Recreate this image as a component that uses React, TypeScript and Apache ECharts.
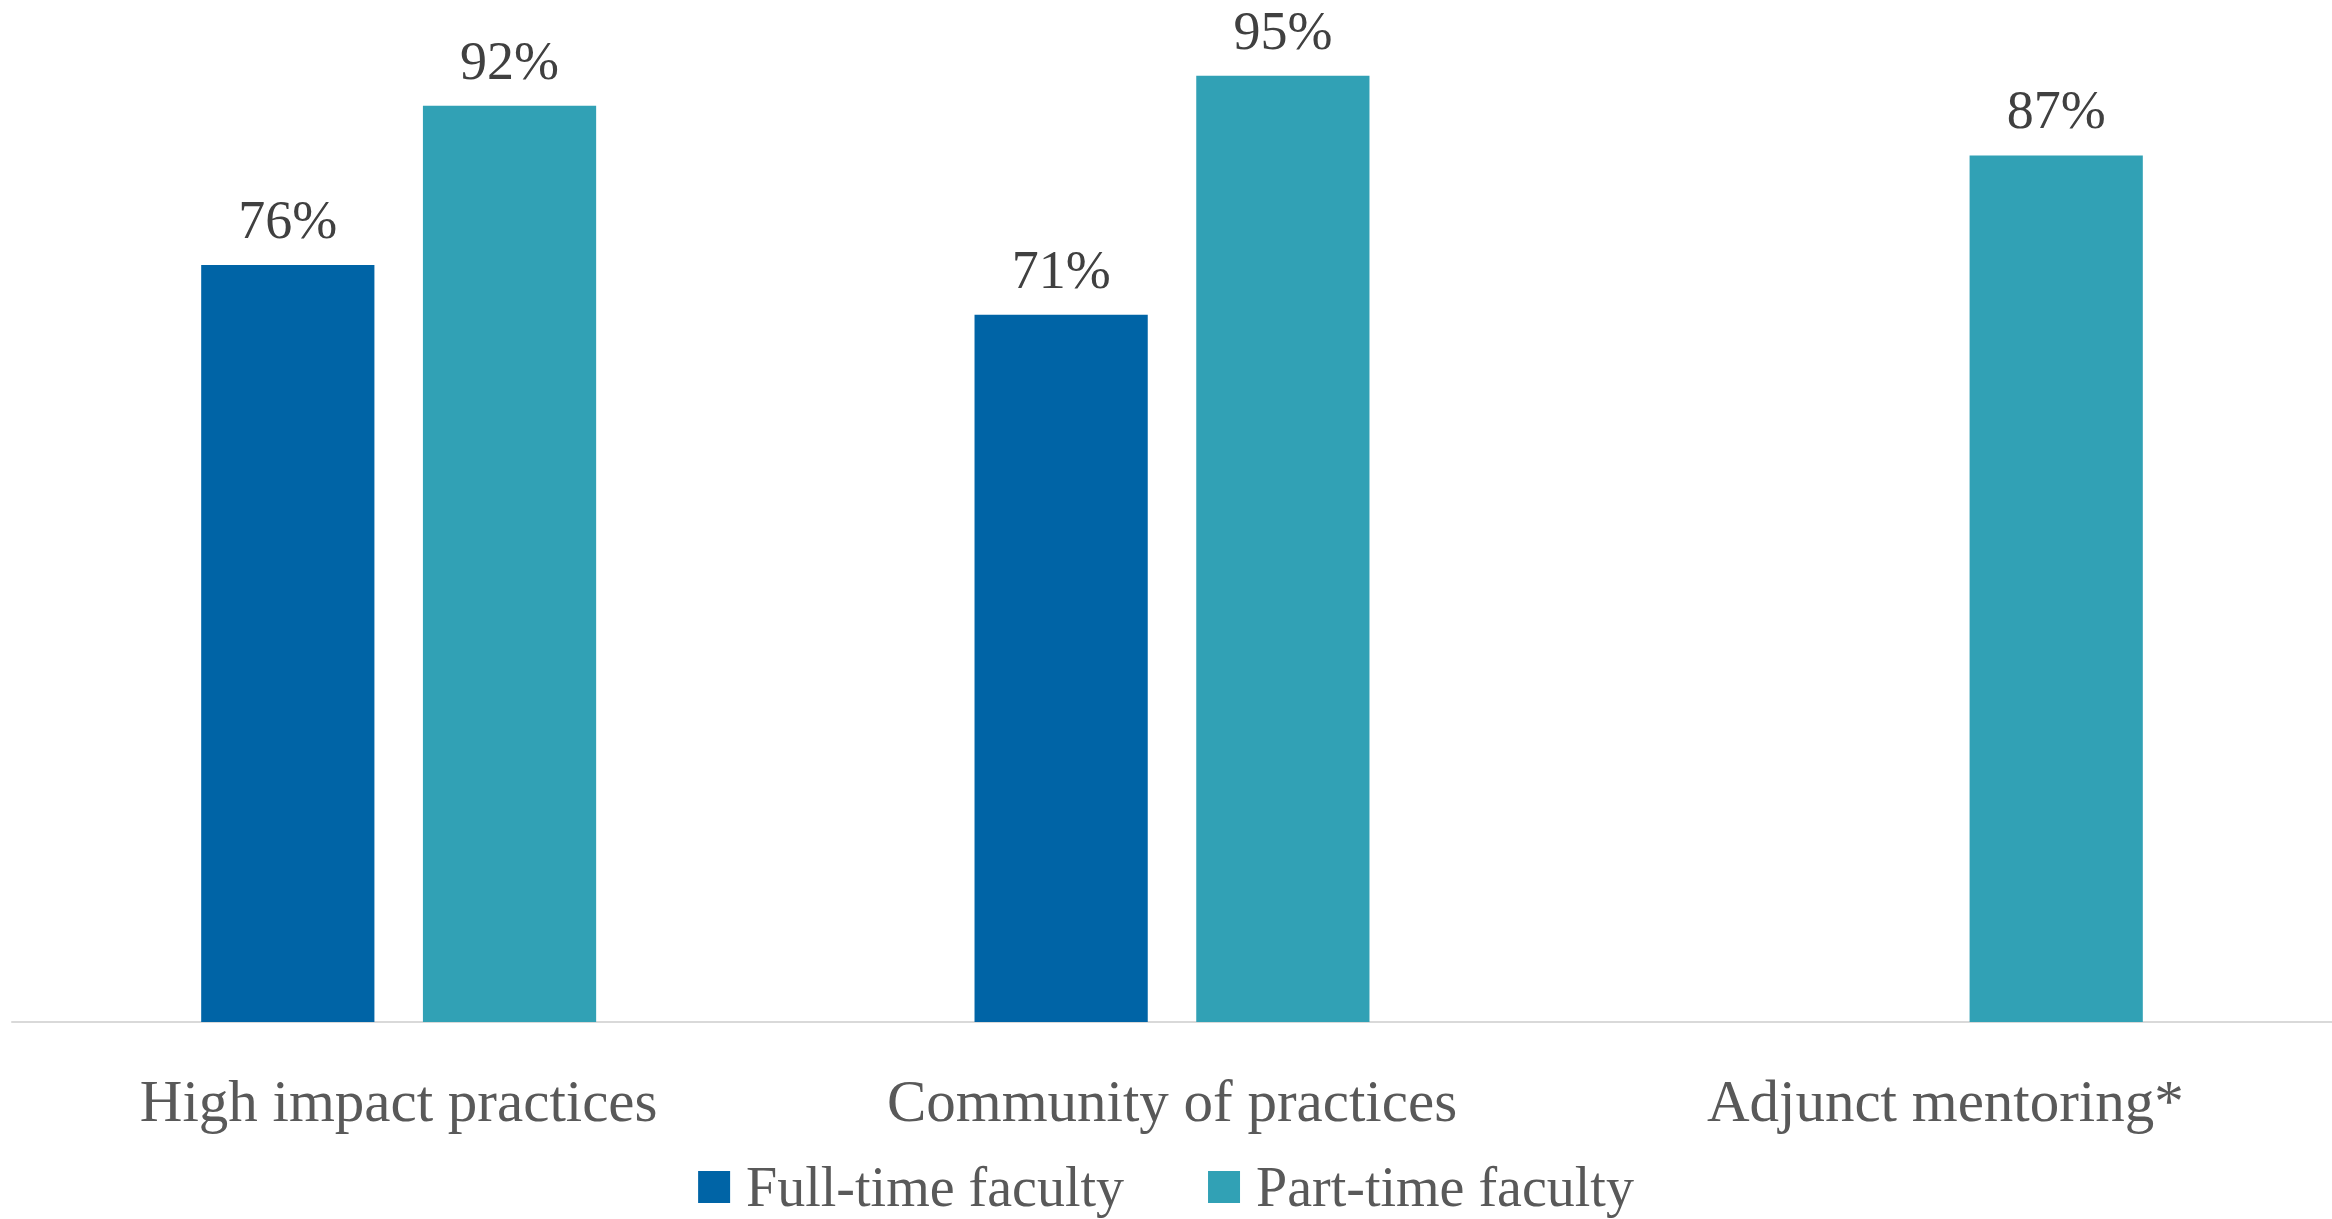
import React, { useEffect, useRef } from "react";
import * as echarts from "echarts";

const categories = ["High impact practices", "Community of practices", "Adjunct mentoring*"];
const fullTime: (number | null)[] = [76, 71, null];
const partTime: number[] = [92, 95, 87];
const seriesNames = ["Full-time faculty", "Part-time faculty"];

const FONT = "'Liberation Serif', 'DejaVu Serif', serif";

export default function App() {
  const ref = useRef<HTMLDivElement>(null);
  useEffect(() => {
    if (!ref.current) return;
    const chart = echarts.init(ref.current, undefined, { renderer: "svg" });
    const label = {
      show: true,
      position: "top",
      distance: 18,
      color: "#404040",
      fontFamily: FONT,
      fontSize: 54,
      formatter: (p: any) => (p.value == null ? "" : p.value + "%"),
    };
    chart.setOption({
      animation: false,
      backgroundColor: "#ffffff",
      grid: { left: 12, right: -2, top: 26, bottom: 197, containLabel: false },
      legend: {
        bottom: -1,
        left: "center",
        itemWidth: 32,
        itemHeight: 32,
        itemGap: 84,
        icon: "rect",
        textStyle: { color: "#595959", fontFamily: FONT, fontSize: 56, padding: [0, 0, 0, 11] },
        data: seriesNames,
      },
      xAxis: {
        type: "category",
        data: categories,
        axisLine: { show: true, lineStyle: { color: "#d9d9d9", width: 2 } },
        axisTick: { show: false },
        axisLabel: { color: "#595959", fontFamily: FONT, fontSize: 59, margin: 49 },
      },
      yAxis: {
        type: "value",
        min: 0,
        max: 100,
        show: false,
        splitLine: { show: false },
      },
      series: [
        {
          name: seriesNames[0],
          type: "bar",
          data: fullTime,
          barWidth: "22.4%",
          barGap: "28%",
          itemStyle: { color: "#0064A6" },
          label,
        },
        {
          name: seriesNames[1],
          type: "bar",
          data: partTime,
          barWidth: "22.4%",
          itemStyle: { color: "#31A1B5" },
          label,
        },
      ],
    });
    return () => chart.dispose();
  }, []);
  return (
    <div
      ref={ref}
      style={{ position: "fixed", left: 0, top: 0, width: 2332, height: 1219, background: "#fff" }}
    />
  );
}
